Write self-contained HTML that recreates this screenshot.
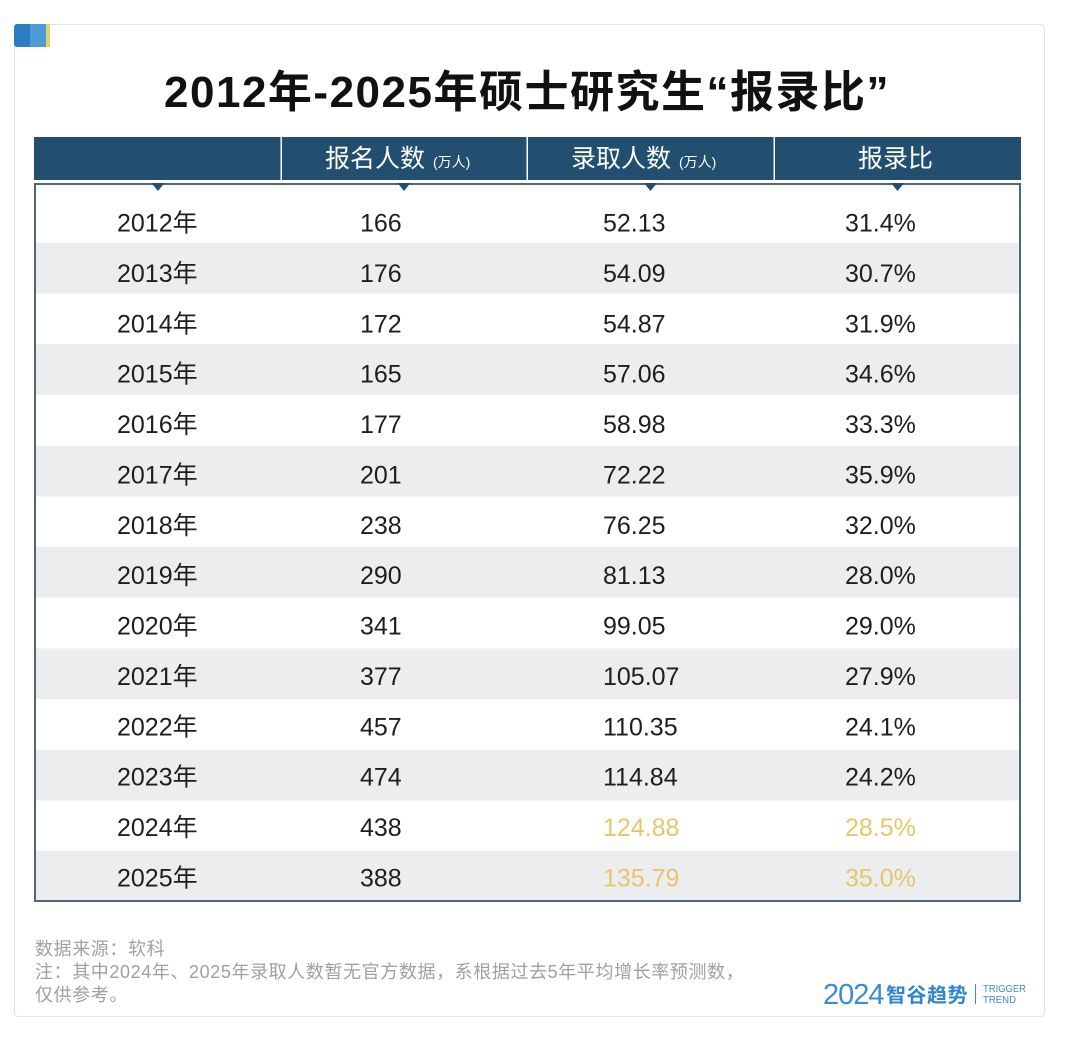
<!DOCTYPE html>
<html>
<head>
<meta charset="utf-8">
<style>
html,body{margin:0;padding:0;background:#fff;}
svg{display:block;}
text{font-family:"Liberation Sans","Noto Sans CJK SC",sans-serif;}
</style>
</head>
<body>
<svg width="1080" height="1042" viewBox="0 0 1080 1042" xmlns="http://www.w3.org/2000/svg">
<rect x="0" y="0" width="1080" height="1042" fill="#ffffff"/>
<!-- card -->
<rect x="14.5" y="24.5" width="1030" height="992" rx="4" fill="#ffffff" stroke="#e2e2e2" stroke-width="1"/>
<!-- tab -->
<rect x="14" y="24" width="36" height="23" rx="3" fill="#2b7dbf"/>
<rect x="30" y="24" width="16" height="23" fill="#4d9bd5"/>
<rect x="46" y="24" width="4" height="23" fill="#e6d26c"/>

<!-- title -->
<text x="527" y="107" text-anchor="middle" font-size="44" font-weight="bold" fill="#111111" style="letter-spacing:1.5px">2012年-2025年硕士研究生“报录比”</text>

<!-- header -->
<rect x="34" y="137" width="987" height="43" fill="#224f70"/>
<rect x="280.5" y="137" width="1.5" height="43" fill="#ffffff"/>
<rect x="526.5" y="137" width="1.5" height="43" fill="#ffffff"/>
<rect x="773.5" y="137" width="1.5" height="43" fill="#ffffff"/>
<text x="325" y="167" font-size="25" fill="#ffffff">报名人数<tspan x="433" font-size="14">(万人)</tspan></text>
<text x="571" y="167" font-size="25" fill="#ffffff">录取人数<tspan x="679" font-size="14">(万人)</tspan></text>
<text x="858" y="167" font-size="25" fill="#ffffff">报录比</text>

<!-- body box -->
<rect x="35" y="184" width="985" height="717" fill="#ffffff" stroke="#50677a" stroke-width="2"/>
<g fill="#ecedef">
<rect x="36" y="243" width="983" height="50.67"/>
<rect x="36" y="344.3" width="983" height="50.67"/>
<rect x="36" y="445.7" width="983" height="50.67"/>
<rect x="36" y="547" width="983" height="50.67"/>
<rect x="36" y="648.4" width="983" height="50.67"/>
<rect x="36" y="749.7" width="983" height="50.67"/>
<rect x="36" y="851" width="983" height="49"/>
</g>
<g fill="#224f70">
<polygon points="151.5,183 164.5,183 158,191"/>
<polygon points="397.5,183 410.5,183 404,191"/>
<polygon points="644,183 657,183 650.5,191"/>
<polygon points="891,183 904,183 897.5,191"/>
</g>

<!-- rows -->
<g font-size="25" fill="#1e1e1e">
<text x="117" y="231.5">2012年</text><text x="360" y="231.5">166</text><text x="603" y="231.5">52.13</text><text x="845" y="231.5">31.4%</text>
<text x="117" y="281.9">2013年</text><text x="360" y="281.9">176</text><text x="603" y="281.9">54.09</text><text x="845" y="281.9">30.7%</text>
<text x="117" y="332.3">2014年</text><text x="360" y="332.3">172</text><text x="603" y="332.3">54.87</text><text x="845" y="332.3">31.9%</text>
<text x="117" y="382.6">2015年</text><text x="360" y="382.6">165</text><text x="603" y="382.6">57.06</text><text x="845" y="382.6">34.6%</text>
<text x="117" y="433">2016年</text><text x="360" y="433">177</text><text x="603" y="433">58.98</text><text x="845" y="433">33.3%</text>
<text x="117" y="483.4">2017年</text><text x="360" y="483.4">201</text><text x="603" y="483.4">72.22</text><text x="845" y="483.4">35.9%</text>
<text x="117" y="533.8">2018年</text><text x="360" y="533.8">238</text><text x="603" y="533.8">76.25</text><text x="845" y="533.8">32.0%</text>
<text x="117" y="584.2">2019年</text><text x="360" y="584.2">290</text><text x="603" y="584.2">81.13</text><text x="845" y="584.2">28.0%</text>
<text x="117" y="634.5">2020年</text><text x="360" y="634.5">341</text><text x="603" y="634.5">99.05</text><text x="845" y="634.5">29.0%</text>
<text x="117" y="684.9">2021年</text><text x="360" y="684.9">377</text><text x="603" y="684.9">105.07</text><text x="845" y="684.9">27.9%</text>
<text x="117" y="735.3">2022年</text><text x="360" y="735.3">457</text><text x="603" y="735.3">110.35</text><text x="845" y="735.3">24.1%</text>
<text x="117" y="785.7">2023年</text><text x="360" y="785.7">474</text><text x="603" y="785.7">114.84</text><text x="845" y="785.7">24.2%</text>
<text x="117" y="836.1">2024年</text><text x="360" y="836.1">438</text><text x="603" y="836.1" fill="#e5c66b">124.88</text><text x="845" y="836.1" fill="#e5c66b">28.5%</text>
<text x="117" y="886.5">2025年</text><text x="360" y="886.5">388</text><text x="603" y="886.5" fill="#e5c66b">135.79</text><text x="845" y="886.5" fill="#e5c66b">35.0%</text>
</g>

<!-- footer -->
<g font-size="18" fill="#a0a0a0" style="letter-spacing:0.6px">
<text x="35" y="955">数据来源：软科</text>
<text x="35" y="978">注：其中2024年、2025年录取人数暂无官方数据，系根据过去5年平均增长率预测数，</text>
<text x="35" y="1001">仅供参考。</text>
</g>

<!-- logo -->
<text x="823" y="1004" font-size="29" fill="#3a8dcf" style="letter-spacing:-1px">2024</text>
<text x="886" y="1002" font-size="20" font-weight="bold" fill="#2f86cc" style="letter-spacing:0.5px">智谷趋势</text>
<rect x="975" y="984" width="1" height="20" fill="#3a8dcf"/>
<text x="983" y="992" font-size="10" fill="#3a8dcf" textLength="43" lengthAdjust="spacingAndGlyphs">TRIGGER</text>
<text x="983" y="1003" font-size="10" fill="#3a8dcf" textLength="33" lengthAdjust="spacingAndGlyphs">TREND</text>
</svg>
</body>
</html>
